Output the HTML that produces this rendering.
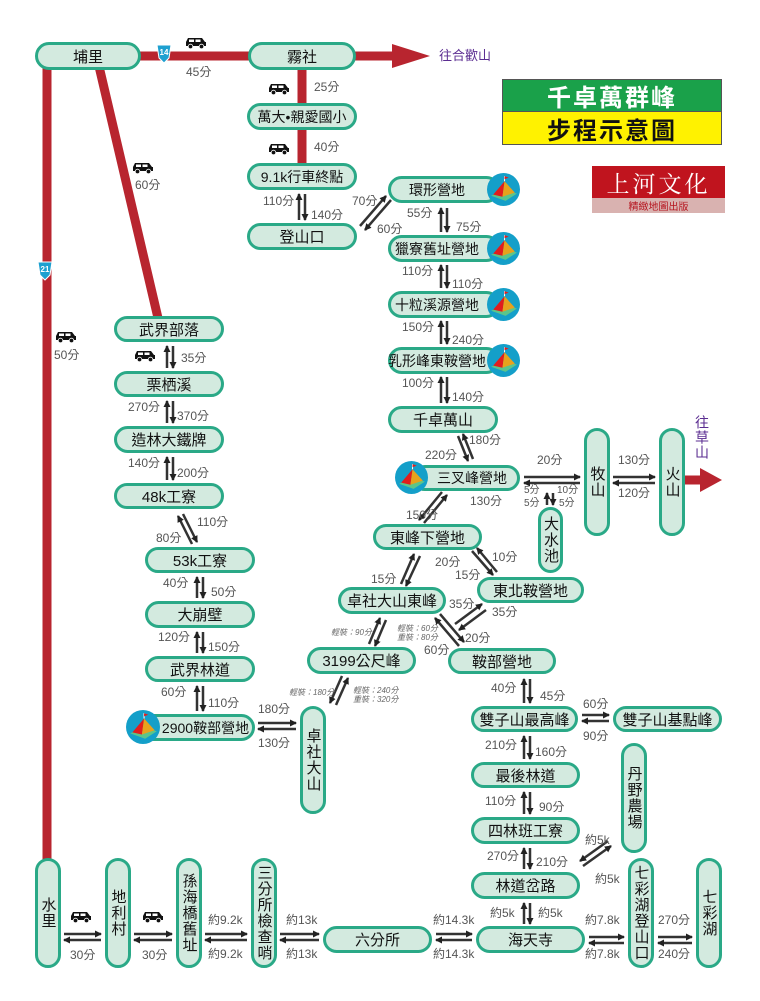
<!DOCTYPE html>
<html><head><meta charset="utf-8">
<style>
body{margin:0;width:760px;height:1001px;background:#fff;position:relative;overflow:hidden;font-family:"Liberation Sans","Noto Sans CJK TC",sans-serif;}
.n{position:absolute;box-sizing:border-box;border:3px solid #2aa987;background:#d3eadf;border-radius:14px;display:flex;align-items:center;justify-content:center;font-size:15px;color:#111;white-space:nowrap;}
.v{writing-mode:vertical-rl;text-orientation:upright;letter-spacing:1px;}
.l{position:absolute;font-size:12px;color:#555;white-space:nowrap;line-height:14px;}
.s{position:absolute;font-size:8px;color:#666;font-style:italic;line-height:9px;white-space:nowrap;}
svg{position:absolute;left:0;top:0;}
</style></head><body>
<svg width="760" height="1001">
<defs>
<marker id="a" markerWidth="7" markerHeight="7" refX="6" refY="3.5" orient="auto" markerUnits="userSpaceOnUse"><path d="M0,0 L7,3.5 L0,7z" fill="#222"/></marker>
<symbol id="car" viewBox="0 0 22 12"><path d="M1,5 L3,1 L17,1 L20,5 L21,5 L21,9 L1,9z" fill="#111"/><rect x="4" y="2.5" width="5" height="2.5" fill="#fff"/><rect x="10.5" y="2.5" width="5" height="2.5" fill="#fff"/><circle cx="5.5" cy="9.5" r="2.3" fill="#111" stroke="#fff" stroke-width="0.8"/><circle cx="16.5" cy="9.5" r="2.3" fill="#111" stroke="#fff" stroke-width="0.8"/></symbol>
<symbol id="camp" viewBox="0 0 32 32"><circle cx="16" cy="16" r="16" fill="#149fc9"/><path d="M4,22 L18,27 L29,20 L16,16z" fill="#5cc58a"/><path d="M6,21 L17,8 L15,23z" fill="#e11d1d"/><path d="M17,8 L27,19 L15,23z" fill="#e7a21d"/><line x1="17" y1="8" x2="17" y2="3" stroke="#fff" stroke-width="1"/><path d="M17,3 L21,4.5 L17,6z" fill="#e11d1d"/></symbol>
</defs>
<g stroke="#b8252f" stroke-width="9" fill="none">
<line x1="47" y1="60" x2="47" y2="862"/>
<line x1="98" y1="62" x2="158" y2="318"/>
<line x1="135" y1="56" x2="250" y2="56"/>
<line x1="302" y1="65" x2="302" y2="166"/>
<line x1="354" y1="56" x2="395" y2="56"/>
<line x1="684" y1="480" x2="702" y2="480"/>
</g>
<polygon points="392,44 430,56 392,68" fill="#b8252f"/>
<polygon points="700,468 722,480 700,492" fill="#b8252f"/>
<path d="M157,45 L171,45 L169,58 L164,63 L159,58z" fill="#1ea0d0" stroke="#fff" stroke-width="1"/>
<text x="164" y="55" font-size="8" fill="#fff" text-anchor="middle" font-family="Liberation Sans" font-weight="bold">14</text>
<path d="M38,262 L52,262 L50,275 L45,280 L40,275z" fill="#1ea0d0" stroke="#fff" stroke-width="1"/>
<text x="45" y="272" font-size="8" fill="#fff" text-anchor="middle" font-family="Liberation Sans" font-weight="bold">21</text>
<use href="#car" x="185" y="37" width="22" height="12"/>
<use href="#car" x="268" y="83" width="22" height="12"/>
<use href="#car" x="268" y="143" width="22" height="12"/>
<use href="#car" x="132" y="162" width="22" height="12"/>
<use href="#car" x="55" y="331" width="22" height="12"/>
<use href="#car" x="134" y="350" width="22" height="12"/>
<use href="#car" x="70" y="911" width="22" height="12"/>
<use href="#car" x="142" y="911" width="22" height="12"/>
<g stroke="#333" stroke-width="2.5" marker-end="url(#a)">
<line x1="299" y1="220" x2="299" y2="194"/><line x1="305" y1="194" x2="305" y2="220"/>
<line x1="441" y1="232" x2="441" y2="208"/><line x1="447" y1="208" x2="447" y2="232"/>
<line x1="441" y1="288" x2="441" y2="265"/><line x1="447" y1="265" x2="447" y2="288"/>
<line x1="441" y1="344" x2="441" y2="321"/><line x1="447" y1="321" x2="447" y2="344"/>
<line x1="441" y1="403" x2="441" y2="377"/><line x1="447" y1="377" x2="447" y2="403"/>
<line x1="167" y1="368" x2="167" y2="346"/><line x1="173" y1="346" x2="173" y2="368"/>
<line x1="167" y1="423" x2="167" y2="401"/><line x1="173" y1="401" x2="173" y2="423"/>
<line x1="167" y1="480" x2="167" y2="457"/><line x1="173" y1="457" x2="173" y2="480"/>
<line x1="197" y1="598" x2="197" y2="577"/><line x1="203" y1="577" x2="203" y2="598"/>
<line x1="197" y1="653" x2="197" y2="632"/><line x1="203" y1="632" x2="203" y2="653"/>
<line x1="197" y1="711" x2="197" y2="686"/><line x1="203" y1="686" x2="203" y2="711"/>
<line x1="524" y1="703" x2="524" y2="679"/><line x1="530" y1="679" x2="530" y2="703"/>
<line x1="524" y1="759" x2="524" y2="736"/><line x1="530" y1="736" x2="530" y2="759"/>
<line x1="524" y1="814" x2="524" y2="792"/><line x1="530" y1="792" x2="530" y2="814"/>
<line x1="524" y1="869" x2="524" y2="848"/><line x1="530" y1="848" x2="530" y2="869"/>
<line x1="524" y1="924" x2="524" y2="903"/><line x1="530" y1="903" x2="530" y2="924"/>
<line x1="547" y1="505" x2="547" y2="493"/><line x1="553" y1="493" x2="553" y2="505"/>
<line x1="524" y1="477" x2="580" y2="477"/><line x1="580" y1="483" x2="524" y2="483"/>
<line x1="613" y1="477" x2="655" y2="477"/><line x1="655" y1="483" x2="613" y2="483"/>
<line x1="582" y1="715" x2="609" y2="715"/><line x1="609" y1="721" x2="582" y2="721"/>
<line x1="258" y1="723" x2="296" y2="723"/><line x1="296" y1="729" x2="258" y2="729"/>
<line x1="64" y1="934" x2="101" y2="934"/><line x1="101" y1="940" x2="64" y2="940"/>
<line x1="134" y1="934" x2="172" y2="934"/><line x1="172" y1="940" x2="134" y2="940"/>
<line x1="205" y1="934" x2="247" y2="934"/><line x1="247" y1="940" x2="205" y2="940"/>
<line x1="280" y1="934" x2="319" y2="934"/><line x1="319" y1="940" x2="280" y2="940"/>
<line x1="436" y1="934" x2="472" y2="934"/><line x1="472" y1="940" x2="436" y2="940"/>
<line x1="589" y1="937" x2="624" y2="937"/><line x1="624" y1="943" x2="589" y2="943"/>
<line x1="658" y1="937" x2="692" y2="937"/><line x1="692" y1="943" x2="658" y2="943"/>
<line x1="360" y1="226" x2="386" y2="196"/><line x1="391" y1="200" x2="365" y2="230"/>
<line x1="458" y1="436" x2="468" y2="461"/><line x1="473" y1="459" x2="463" y2="434"/>
<line x1="442" y1="492" x2="419" y2="520"/><line x1="424" y1="523" x2="447" y2="495"/>
<line x1="401" y1="584" x2="414" y2="554"/><line x1="420" y1="556" x2="406" y2="586"/>
<line x1="472" y1="551" x2="493" y2="575"/><line x1="497" y1="572" x2="477" y2="548"/>
<line x1="455" y1="624" x2="482" y2="604"/><line x1="486" y1="610" x2="459" y2="630"/>
<line x1="440" y1="614" x2="464" y2="642"/><line x1="459" y1="646" x2="435" y2="618"/>
<line x1="369" y1="644" x2="380" y2="618"/><line x1="386" y1="620" x2="375" y2="646"/>
<line x1="342" y1="676" x2="330" y2="703"/><line x1="336" y1="705" x2="348" y2="678"/>
<line x1="183" y1="514" x2="197" y2="542"/><line x1="192" y1="544" x2="178" y2="516"/>
<line x1="583" y1="866" x2="611" y2="846"/><line x1="608" y1="841" x2="580" y2="861"/>
</g>
</svg>

<div style="position:absolute;left:502px;top:79px;width:220px;height:33px;background:#1aa14a;border:1px solid #555;box-sizing:border-box;color:#fff;font-size:24px;font-weight:bold;display:flex;align-items:center;justify-content:center;letter-spacing:2px;">千卓萬群峰</div>
<div style="position:absolute;left:502px;top:112px;width:220px;height:33px;background:#fff200;border:1px solid #555;border-top:none;box-sizing:border-box;color:#111;font-size:24px;font-weight:bold;display:flex;align-items:center;justify-content:center;letter-spacing:2px;">步程示意圖</div>
<div style="position:absolute;left:592px;top:166px;width:133px;height:32px;background:#c0141e;color:#fff;font-family:'Liberation Serif','Noto Serif CJK SC',serif;font-size:23px;display:flex;align-items:center;justify-content:center;letter-spacing:3px;">上河文化</div>
<div style="position:absolute;left:592px;top:198px;width:133px;height:15px;background:#d9b2b0;color:#b5141e;font-size:10px;display:flex;align-items:center;justify-content:center;">精緻地圖出版</div>

<div class="n" style="left:35px;top:42px;width:106px;height:28px;">埔里</div>
<div class="n" style="left:248px;top:42px;width:108px;height:28px;">霧社</div>
<div class="n" style="left:247px;top:103px;width:110px;height:27px;font-size:14px;">萬大•親愛國小</div>
<div class="n" style="left:247px;top:163px;width:110px;height:27px;font-size:14px;">9.1k行車終點</div>
<div class="n" style="left:247px;top:223px;width:110px;height:27px;">登山口</div>
<div class="n" style="left:388px;top:176px;width:112px;height:27px;font-size:14px;padding-right:14px;">環形營地</div>
<div class="n" style="left:388px;top:235px;width:112px;height:27px;font-size:14px;padding-right:14px;">獵寮舊址營地</div>
<div class="n" style="left:388px;top:291px;width:112px;height:27px;font-size:14px;padding-right:14px;">十粒溪源營地</div>
<div class="n" style="left:388px;top:347px;width:112px;height:27px;font-size:14px;padding-right:14px;">乳形峰東鞍營地</div>
<div class="n" style="left:388px;top:406px;width:110px;height:27px;">千卓萬山</div>
<div class="n" style="left:412px;top:465px;width:108px;height:26px;font-size:14px;padding-left:12px;">三叉峰營地</div>
<div class="n v" style="left:584px;top:428px;width:26px;height:108px;">牧山</div>
<div class="n v" style="left:659px;top:428px;width:26px;height:108px;">火山</div>
<div class="n v" style="left:538px;top:507px;width:25px;height:66px;">大水池</div>
<div class="n" style="left:373px;top:524px;width:109px;height:26px;">東峰下營地</div>
<div class="n" style="left:477px;top:577px;width:107px;height:26px;">東北鞍營地</div>
<div class="n" style="left:338px;top:587px;width:108px;height:27px;">卓社大山東峰</div>
<div class="n" style="left:307px;top:647px;width:109px;height:27px;">3199公尺峰</div>
<div class="n" style="left:448px;top:648px;width:108px;height:26px;">鞍部營地</div>
<div class="n" style="left:471px;top:706px;width:107px;height:26px;">雙子山最高峰</div>
<div class="n" style="left:613px;top:706px;width:109px;height:26px;">雙子山基點峰</div>
<div class="n" style="left:471px;top:762px;width:109px;height:26px;">最後林道</div>
<div class="n v" style="left:621px;top:743px;width:26px;height:110px;">丹野農場</div>
<div class="n" style="left:471px;top:817px;width:109px;height:27px;">四林班工寮</div>
<div class="n" style="left:471px;top:872px;width:109px;height:27px;">林道岔路</div>
<div class="n v" style="left:628px;top:858px;width:26px;height:110px;">七彩湖登山口</div>
<div class="n v" style="left:696px;top:858px;width:26px;height:110px;">七彩湖</div>
<div class="n" style="left:476px;top:926px;width:109px;height:27px;">海天寺</div>
<div class="n" style="left:323px;top:926px;width:109px;height:27px;">六分所</div>
<div class="n v" style="left:251px;top:858px;width:26px;height:110px;">三分所檢查哨</div>
<div class="n v" style="left:176px;top:858px;width:26px;height:110px;">孫海橋舊址</div>
<div class="n v" style="left:105px;top:858px;width:26px;height:110px;">地利村</div>
<div class="n v" style="left:35px;top:858px;width:26px;height:110px;">水里</div>
<div class="n" style="left:114px;top:316px;width:110px;height:26px;">武界部落</div>
<div class="n" style="left:114px;top:371px;width:110px;height:26px;">栗栖溪</div>
<div class="n" style="left:114px;top:426px;width:110px;height:27px;">造林大鐵牌</div>
<div class="n" style="left:114px;top:483px;width:110px;height:26px;">48k工寮</div>
<div class="n" style="left:145px;top:547px;width:110px;height:26px;">53k工寮</div>
<div class="n" style="left:145px;top:601px;width:110px;height:27px;">大崩壁</div>
<div class="n" style="left:145px;top:656px;width:110px;height:26px;">武界林道</div>
<div class="n" style="left:140px;top:714px;width:115px;height:27px;font-size:14px;padding-left:16px;">2900鞍部營地</div>
<div class="n v" style="left:300px;top:706px;width:26px;height:108px;">卓社大山</div>
<svg width="760" height="1001" style="pointer-events:none">
<use href="#camp" x="487" y="173" width="33" height="33"/>
<use href="#camp" x="487" y="232" width="33" height="33"/>
<use href="#camp" x="487" y="288" width="33" height="33"/>
<use href="#camp" x="487" y="344" width="33" height="33"/>
<use href="#camp" x="395" y="461" width="33" height="33"/>
<use href="#camp" x="126" y="710" width="34" height="34"/>
</svg>

<div class="l" style="left:186px;top:65px">45分</div>
<div class="l" style="left:314px;top:80px">25分</div>
<div class="l" style="left:314px;top:140px">40分</div>
<div class="l" style="left:135px;top:178px">60分</div>
<div class="l" style="left:54px;top:348px">50分</div>
<div class="l" style="left:263px;top:194px">110分</div>
<div class="l" style="left:311px;top:208px">140分</div>
<div class="l" style="left:352px;top:194px">70分</div>
<div class="l" style="left:377px;top:222px">60分</div>
<div class="l" style="left:407px;top:206px">55分</div>
<div class="l" style="left:456px;top:220px">75分</div>
<div class="l" style="left:402px;top:264px">110分</div>
<div class="l" style="left:452px;top:277px">110分</div>
<div class="l" style="left:402px;top:320px">150分</div>
<div class="l" style="left:452px;top:333px">240分</div>
<div class="l" style="left:402px;top:376px">100分</div>
<div class="l" style="left:452px;top:390px">140分</div>
<div class="l" style="left:469px;top:433px">180分</div>
<div class="l" style="left:425px;top:448px">220分</div>
<div class="l" style="left:537px;top:453px">20分</div>
<div class="l" style="left:618px;top:453px">130分</div>
<div class="l" style="left:618px;top:486px">120分</div>
<div class="l" style="left:524px;top:484px;font-size:10px">5分</div>
<div class="l" style="left:524px;top:497px;font-size:10px">5分</div>
<div class="l" style="left:557px;top:484px;font-size:10px">10分</div>
<div class="l" style="left:559px;top:497px;font-size:10px">5分</div>
<div class="l" style="left:470px;top:494px">130分</div>
<div class="l" style="left:406px;top:508px">150分</div>
<div class="l" style="left:435px;top:555px">20分</div>
<div class="l" style="left:492px;top:550px">10分</div>
<div class="l" style="left:371px;top:572px">15分</div>
<div class="l" style="left:455px;top:568px">15分</div>
<div class="l" style="left:449px;top:597px">35分</div>
<div class="l" style="left:492px;top:605px">35分</div>
<div class="l" style="left:465px;top:631px">20分</div>
<div class="l" style="left:424px;top:643px">60分</div>
<div class="l" style="left:181px;top:351px">35分</div>
<div class="l" style="left:128px;top:400px">270分</div>
<div class="l" style="left:177px;top:409px">370分</div>
<div class="l" style="left:128px;top:456px">140分</div>
<div class="l" style="left:177px;top:466px">200分</div>
<div class="l" style="left:197px;top:515px">110分</div>
<div class="l" style="left:156px;top:531px">80分</div>
<div class="l" style="left:163px;top:576px">40分</div>
<div class="l" style="left:211px;top:585px">50分</div>
<div class="l" style="left:158px;top:630px">120分</div>
<div class="l" style="left:208px;top:640px">150分</div>
<div class="l" style="left:161px;top:685px">60分</div>
<div class="l" style="left:208px;top:696px">110分</div>
<div class="l" style="left:258px;top:702px">180分</div>
<div class="l" style="left:258px;top:736px">130分</div>
<div class="s" style="left:331px;top:628px">輕裝：90分</div>
<div class="s" style="left:397px;top:624px">輕裝：60分<br>重裝：80分</div>
<div class="s" style="left:289px;top:688px">輕裝：180分</div>
<div class="s" style="left:353px;top:686px">輕裝：240分<br>重裝：320分</div>
<div class="l" style="left:491px;top:681px">40分</div>
<div class="l" style="left:540px;top:689px">45分</div>
<div class="l" style="left:583px;top:697px">60分</div>
<div class="l" style="left:583px;top:729px">90分</div>
<div class="l" style="left:485px;top:738px">210分</div>
<div class="l" style="left:535px;top:745px">160分</div>
<div class="l" style="left:485px;top:794px">110分</div>
<div class="l" style="left:539px;top:800px">90分</div>
<div class="l" style="left:487px;top:849px">270分</div>
<div class="l" style="left:536px;top:855px">210分</div>
<div class="l" style="left:585px;top:833px">約5k</div>
<div class="l" style="left:595px;top:872px">約5k</div>
<div class="l" style="left:490px;top:906px">約5k</div>
<div class="l" style="left:538px;top:906px">約5k</div>
<div class="l" style="left:585px;top:913px">約7.8k</div>
<div class="l" style="left:585px;top:947px">約7.8k</div>
<div class="l" style="left:658px;top:913px">270分</div>
<div class="l" style="left:658px;top:947px">240分</div>
<div class="l" style="left:433px;top:913px">約14.3k</div>
<div class="l" style="left:433px;top:947px">約14.3k</div>
<div class="l" style="left:286px;top:913px">約13k</div>
<div class="l" style="left:286px;top:947px">約13k</div>
<div class="l" style="left:208px;top:913px">約9.2k</div>
<div class="l" style="left:208px;top:947px">約9.2k</div>
<div class="l" style="left:70px;top:948px">30分</div>
<div class="l" style="left:142px;top:948px">30分</div>
<div class="l" style="left:439px;top:49px;color:#5b2d91;font-size:13px">往合歡山</div>
<div class="l v" style="left:694px;top:415px;color:#5b2d91;font-size:14px;line-height:16px">往草山</div>
</body></html>
